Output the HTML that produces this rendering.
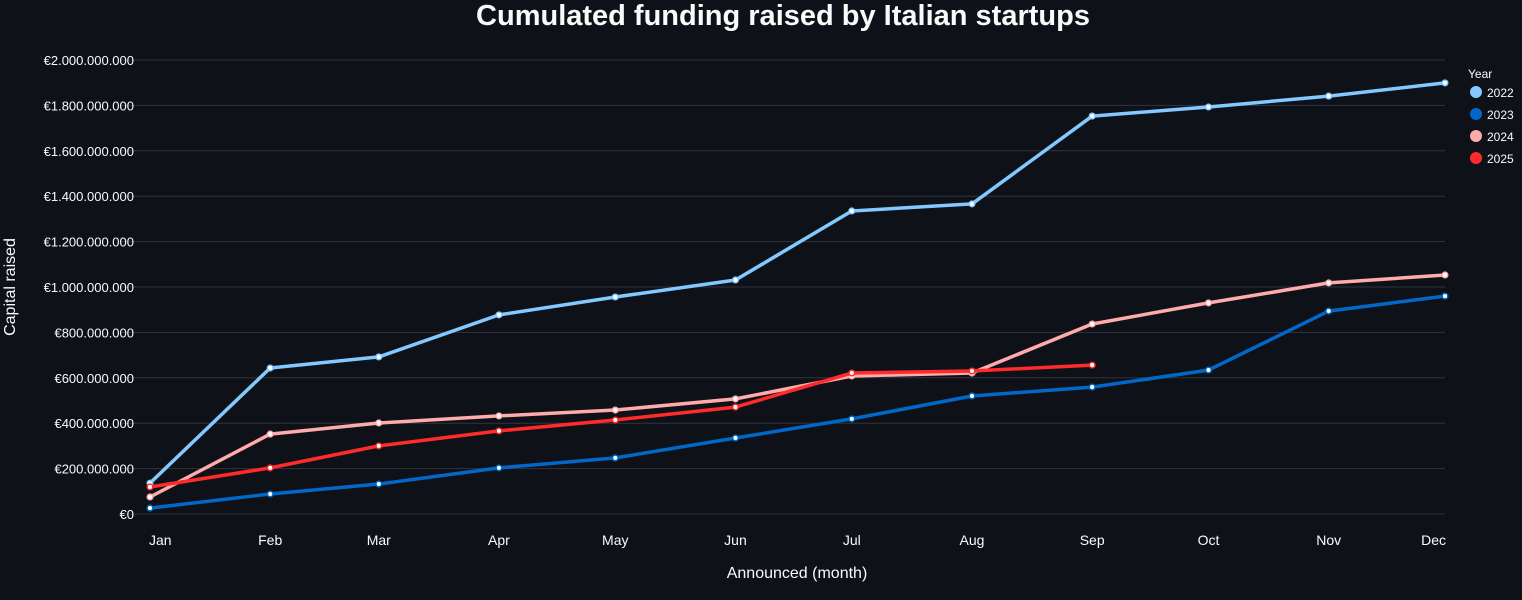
<!DOCTYPE html>
<html><head><meta charset="utf-8"><style>
html,body{margin:0;padding:0;background:#0e1117;}
svg{display:block;font-family:"Liberation Sans",sans-serif;}
</style></head><body>
<svg id="chart" width="1522" height="600" xmlns="http://www.w3.org/2000/svg">
<rect width="1522" height="600" fill="#0e1117"/>
<text x="783" y="25" text-anchor="middle" font-size="29" font-weight="bold" fill="#fafafa">Cumulated funding raised by Italian startups</text>
<g id="grid"></g><g id="yticks"></g><g id="xticks"></g><g id="series"></g>
<text transform="translate(15,287) rotate(-90)" text-anchor="middle" font-size="16" fill="#fafafa">Capital raised</text>
<text x="797" y="578" text-anchor="middle" font-size="16" fill="#fafafa">Announced (month)</text>
<g id="legend">
<text x="1468" y="78" font-size="12" fill="#fafafa">Year</text>
</g>
</svg>
<script>
const months = ["Jan","Feb","Mar","Apr","May","Jun","Jul","Aug","Sep","Oct","Nov","Dec"];
const monthDays = [0,31,59,90,120,151,181,212,243,273,304,334];
const years = ["2022","2023","2024","2025"];
const colors = ["#83c9ff","#0068c9","#ffabab","#ff2b2b"];
const v2022 = [136,643,692,877,956,1031,1335,1366,1753,1793,1841,1899];
const v2023 = [26,88,132,203,247,335,419,520,559,634,894,960];
const v2024 = [75,352,401,432,458,507,608,621,837,930,1018,1053];
const v2025 = [119,203,300,366,414,471,621,630,656];
const yTicks = [0,200,400,600,800,1000,1200,1400,1600,1800,2000];
const NS="http://www.w3.org/2000/svg";
const X0=150,X1=1445,Y0=514,Y1=60;
const x = d => X0 + d/334*(X1-X0);
const y = v => Y0 - v/2000*(Y0-Y1);
function mk(tag,attrs,parent){const e=document.createElementNS(NS,tag);for(const k in attrs)e.setAttribute(k,attrs[k]);document.getElementById(parent).appendChild(e);return e;}
function fmt(v){if(v===0)return "€0";return "€"+(v*1000000).toString().replace(/\B(?=(\d{3})+(?!\d))/g,".");}
yTicks.forEach(t=>{
  const l=mk("line",{x1:X0-30,x2:X1,y1:y(t),y2:y(t),stroke:"#31333f","stroke-width":1},"grid");
  
  
  const tx=mk("text",{x:134,y:y(t)+5,"text-anchor":"end","font-size":13,fill:"#fafafa"},"yticks");
  tx.textContent=fmt(t);
  
  
});
months.forEach((m,i)=>{
  let xx=x(monthDays[i]);let anchor="middle";
  if(i===0){anchor="start";} if(i===11){anchor="end";}
  const tx=mk("text",{x:i===0?xx-1:(i===11?xx+1:xx),y:545,"text-anchor":anchor,"font-size":14,fill:"#fafafa"},"xticks");
  tx.textContent=m;
  
  
});
[v2022,v2023,v2024,v2025].forEach((vals,s)=>{
  const pts=vals.map((v,i)=>x(monthDays[i]).toFixed(1)+","+y(v).toFixed(1)).join(" ");
  const pl=mk("polyline",{points:pts,fill:"none",stroke:colors[s],"stroke-width":3.5,"stroke-linejoin":"round"},"series");
  
  
  vals.forEach((v,i)=>{
    const c=mk("circle",{cx:x(monthDays[i]),cy:y(v),r:2.8,fill:"#ffffff",stroke:colors[s],"stroke-width":1.5},"series");
    
    
  });
  const lc=mk("circle",{cx:1476,cy:92+s*22,r:6,fill:colors[s]},"legend");
  
  
  const lt=mk("text",{x:1487,y:97+s*22,"font-size":12,fill:"#fafafa"},"legend");
  lt.textContent=years[s];
  
  
});
</script>
</body></html>
